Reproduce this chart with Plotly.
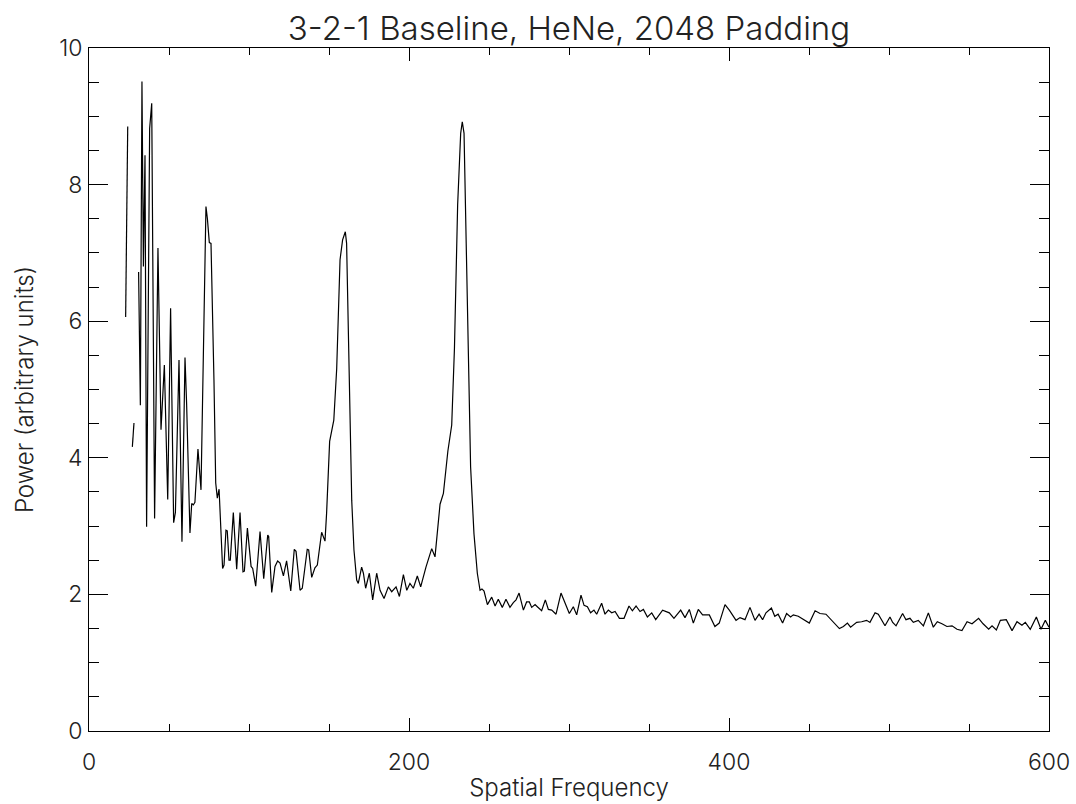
import math
import plotly.graph_objects as go

NAN = float("nan")

# Low-frequency region (with gaps in the data)
low_freq = [22.9, 24.2, 25.5, 27.1, 28.1, 29.5,
            31.0, 32.1, 33.1, 34.0, 35.0, 36.0, 37.9, 39.2, 41.0, 43.1, 45.0, 47.1,
            49.2, 51.0, 52.9, 54.0, 56.25, 58.1, 60.0, 61.0, 63.1, 64.2, 65.2, 66.2,
            68.1, 70.0, 73.1, 74.0, 75.2, 76.25, 78.1, 79.2, 80.2, 81.3]
low_power = [6.06, 8.85, NAN, 4.16, 4.51, NAN,
             6.72, 4.77, 9.51, 6.8, 8.43, 2.99, 8.82, 9.19, 3.11, 7.07, 4.41, 5.36,
             3.39, 6.19, 3.05, 3.2, 5.43, 2.77, 5.47, 4.8, 2.90, 3.33, 3.31, 3.35,
             4.13, 3.53, 7.68, 7.5, 7.15, 7.14, 5.14, 3.63, 3.41, 3.54]

# Region around the first HeNe-related peak
mid_freq = [83.5, 84.4, 85.6, 86.4, 87.5, 88.3, 90.2, 92.3, 94.4, 96.25, 97.1, 99.0,
            101.3, 102.3, 104.2, 106.9, 109.2, 111.7, 112.3, 114.2, 116.25, 117.9,
            119.4, 121.5, 123.5, 126.1, 128.3, 129.4, 131.9, 133.3, 136.4, 137.3,
            139.2, 141.2, 142.7, 145.4, 147.5, 148.5, 150.4, 153.0, 154.8, 156.9,
            158.5, 160.2, 161.0, 162.7, 164.2, 165.6, 167.3, 168.3, 170.4, 171.5,
            172.9, 175.2, 177.3, 179.8, 181.9, 184.4, 187.1, 189.2, 191.9, 194.0,
            196.5, 198.6, 200.6, 202.7, 205.2, 207.3, 210.6, 214.2, 216.25]
mid_power = [2.38, 2.43, 2.94, 2.93, 2.5, 2.5, 3.20, 2.37, 3.20, 2.33, 2.34, 2.97,
             2.41, 2.38, 2.12, 2.92, 2.23, 2.87, 2.85, 2.03, 2.41, 2.49,
             2.46, 2.27, 2.49, 2.05, 2.66, 2.63, 2.06, 2.09, 2.66, 2.65,
             2.25, 2.39, 2.43, 2.91, 2.78, 3.19, 4.24, 4.55, 5.3, 6.90,
             7.19, 7.31, 7.14, 4.85, 3.38, 2.65, 2.21, 2.16, 2.40, 2.31,
             2.09, 2.31, 1.92, 2.31, 2.06, 1.94, 2.11, 2.04, 2.11, 1.97,
             2.29, 2.06, 2.16, 2.09, 2.27, 2.11, 2.40, 2.67, 2.55]

# Main peak
peak_freq = [219.4, 221.5, 224.3, 226.7, 228.4, 230.4, 232.3, 233.3, 234.4, 236.4,
             238.5, 240.6, 242.7, 244.4, 245.6, 246.9]
peak_power = [3.32, 3.48, 4.1, 4.48, 5.6, 7.7, 8.75, 8.92, 8.75, 6.31,
              3.87, 2.89, 2.31, 2.06, 2.08, 2.05]

# High-frequency tail
tail_freq = [249.0, 251.7, 253.8, 255.8, 258.3, 260.6, 263.1, 265.2, 266.9, 268.8,
             271.5, 273.5, 275.2, 276.7, 278.8, 280.2, 282.9, 285.2, 287.1, 289.2,
             291.9, 295.0, 297.5, 300.2, 302.7, 304.8, 307.5, 309.4, 311.5, 313.5,
             315.6, 317.3, 320.4, 322.5, 324.6, 326.7, 328.8, 331.5, 334.4, 337.5,
             339.6, 341.9, 344.4, 346.5, 349.0, 351.7, 354.2, 358.5, 362.7, 365.6,
             369.8, 372.5, 375.2, 377.7, 380.8, 383.5, 387.7, 391.2, 393.9, 397.5,
             400.2, 404.4, 406.9, 410.0, 413.1, 416.25, 418.8, 421.0, 423.1, 426.5,
             428.6, 430.7, 433.5, 436.0, 438.5, 440.2, 443.3, 446.5, 450.2, 453.8,
             456.9, 460.6, 464.8, 469.0, 471.5, 474.0, 476.0, 479.8, 482.9, 486.0,
             488.1, 491.3, 493.3, 494.8, 497.5, 500.6, 502.3, 504.4, 508.5, 510.6,
             513.1, 515.2, 518.3, 521.5, 524.6, 527.7, 530.2, 533.1, 536.2, 539.4,
             542.5, 545.6, 548.8, 551.9, 556.0, 558.8, 562.3, 564.4, 567.1, 569.6,
             573.3, 576.9, 580.0, 583.1, 585.2, 588.3, 592.1, 595.0, 597.7, 600.0]
tail_power = [1.85, 1.96, 1.83, 1.93, 1.81, 1.93, 1.81, 1.88, 1.92, 2.02,
              1.77, 1.89, 1.89, 1.81, 1.85, 1.82, 1.76, 1.92, 1.78, 1.77,
              1.71, 2.02, 1.87, 1.72, 1.82, 1.70, 1.99, 1.84, 1.82, 1.73,
              1.77, 1.71, 1.87, 1.71, 1.77, 1.73, 1.75, 1.65, 1.65, 1.83,
              1.76, 1.83, 1.75, 1.78, 1.67, 1.73, 1.63, 1.77, 1.73, 1.65,
              1.77, 1.66, 1.78, 1.58, 1.78, 1.70, 1.70, 1.53, 1.58, 1.85,
              1.77, 1.62, 1.66, 1.63, 1.81, 1.62, 1.71, 1.63, 1.73, 1.80,
              1.68, 1.71, 1.58, 1.72, 1.67, 1.70, 1.68, 1.63, 1.58, 1.76,
              1.72, 1.71, 1.60, 1.50, 1.53, 1.58, 1.52, 1.59, 1.60, 1.62,
              1.59, 1.73, 1.71, 1.65, 1.54, 1.67, 1.59, 1.54, 1.72, 1.63,
              1.65, 1.59, 1.62, 1.54, 1.73, 1.52, 1.60, 1.57, 1.53, 1.54,
              1.49, 1.47, 1.60, 1.57, 1.65, 1.57, 1.49, 1.54, 1.48, 1.62,
              1.63, 1.47, 1.60, 1.55, 1.59, 1.49, 1.67, 1.49, 1.62, 1.52]

freq = low_freq + mid_freq + peak_freq + tail_freq
power = low_power + mid_power + peak_power + tail_power
power = [None if (isinstance(p, float) and math.isnan(p)) else p for p in power]

FONT = "Inter, DejaVu Sans, sans-serif"
WEIGHT = 300
TXT = "#222222"

fig = go.Figure(go.Scatter(x=freq, y=power, mode="lines",
                           line=dict(color="black", width=1.2),
                           connectgaps=False, showlegend=False))

fig.update_layout(
    width=1076, height=804,
    paper_bgcolor="white", plot_bgcolor="white",
    margin=dict(l=89, r=27, t=48, b=73, autoexpand=False),
    title=dict(text="3-2-1 Baseline, HeNe, 2048 Padding",
               x=(89 + 1049) / 2 / 1076, xanchor="center",
               y=1 - 28 / 804, yanchor="middle", yref="container",
               font=dict(family=FONT, size=33, color=TXT, weight=WEIGHT)),
    font=dict(family=FONT, size=22, color=TXT, weight=WEIGHT),
)
fig.update_xaxes(
    range=[0, 600], dtick=200, tick0=0, automargin=False,
    showgrid=False, zeroline=False,
    showline=True, linecolor="black", linewidth=1, mirror="allticks",
    ticks="inside", ticklen=13, tickcolor="black", tickwidth=1,
    ticklabelstandoff=10,
    minor=dict(ticks="inside", ticklen=7, dtick=50, tickcolor="black", tickwidth=1, showgrid=False),
    tickfont=dict(family=FONT, size=23, color=TXT, weight=WEIGHT),
    title=dict(text="Spatial Frequency", standoff=4,
               font=dict(family=FONT, size=24, color=TXT, weight=WEIGHT)),
)
fig.update_yaxes(
    range=[0, 10], dtick=2, tick0=0, automargin=False,
    showgrid=False, zeroline=False,
    showline=True, linecolor="black", linewidth=1, mirror="allticks",
    ticks="inside", ticklen=19, tickcolor="black", tickwidth=1,
    ticklabelstandoff=1,
    minor=dict(ticks="inside", ticklen=10, dtick=0.5, tickcolor="black", tickwidth=1, showgrid=False),
    tickfont=dict(family=FONT, size=23, color=TXT, weight=WEIGHT),
    title=dict(text="Power (arbitrary units)", standoff=18,
               font=dict(family=FONT, size=24, color=TXT, weight=WEIGHT)),
)

fig.write_html("out.html", config={"displayModeBar": False},
               post_script="document.body.style.margin='0';")
